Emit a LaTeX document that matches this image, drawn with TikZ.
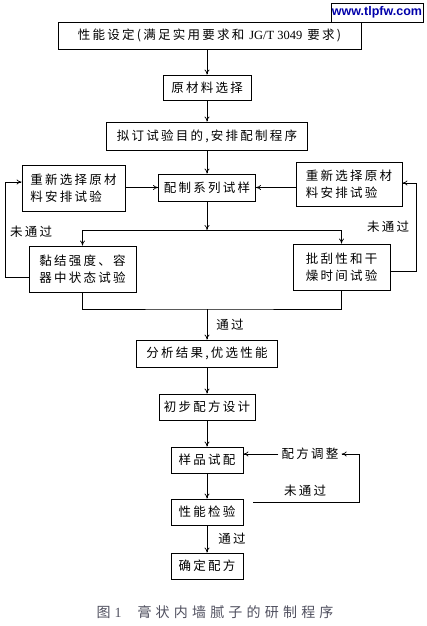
\documentclass[tikz,border=0pt]{standalone}
\usepackage{fontspec}
\setmainfont{Liberation Serif}
\newfontfamily\cjk[LetterSpace=18]{Noto Sans CJK SC}
\newfontfamily\capcjk[LetterSpace=30]{Noto Sans CJK SC}
\newfontfamily\wmfont{Liberation Sans}
\usetikzlibrary{arrows.meta}
\definecolor{wmblue}{RGB}{0,0,170}
\definecolor{capgray}{RGB}{80,80,95}

\tikzset{
	box/.style={draw,line width=0.9pt,inner sep=2pt,align=left,font=\cjk\fontsize{12.5}{17}\selectfont},
	lbl/.style={inner sep=3pt,font=\cjk\fontsize{12.5}{15}\selectfont},
}

\begin{document}
\begin{tikzpicture}[x=1pt,y=-1pt,line width=0.7pt,>={To[length=5pt,width=5pt]}]
	\useasboundingbox (0,0) rectangle (426,626);
	\node (wm) [draw,line width=0.7pt,font=\wmfont\bfseries\fontsize{12.5}{12.5}\selectfont,text=wmblue,minimum width=88,minimum height=19,inner sep=1pt] at (377,12.5) {www.tlpfw.com};
	
	\node (set) [box,minimum width=303,minimum height=27] at (209.5,35.5) {性能设定(满足实用要求和 {\rmfamily JG/T 3049} 要求)};
	\node (ycl) [box,minimum width=88,minimum height=25] at (207,87.5) {原材料选择};
	\node (nd) [box,minimum width=201,minimum height=28] at (207,136) {拟订试验目的,安排配制程序};
	\node (pz) [box,minimum width=97,minimum height=27] at (207,187.5) {配制系列试样};
	\node (cxl) [box,minimum width=103,minimum height=46] at (73.5,188) {重新选择原材\\料安排试验};
	\node (cxr) [box,minimum width=106,minimum height=44] at (349,184) {重新选择原材\\料安排试验};
	\node (nj) [box,minimum width=107,minimum height=46] at (82.5,269) {黏结强度、容\\器中状态试验};
	\node (pg) [box,minimum width=97,minimum height=46] at (341.5,267) {批刮性和干\\燥时间试验};
	\node (fx) [box,minimum width=141,minimum height=27] at (207,353.5) {分析结果,优选性能};
	\node (cb) [box,minimum width=96,minimum height=26] at (207,407) {初步配方设计};
	\node (yp) [box,minimum width=72,minimum height=26] at (207,460) {样品试配};
	\node (xn) [box,minimum width=72,minimum height=26] at (207,512) {性能检验};
	\node (qd) [box,minimum width=72,minimum height=26] at (207,566) {确定配方};
	
	\node (tz) [lbl] at (310,454) {配方调整};
	\node (wl) [lbl] at (31,232) {未通过};
	\node (wr) [lbl] at (388,227) {未通过};
	\node (wb) [lbl] at (305,491) {未通过};
	\node (tg1) [lbl] at (230,325) {通过};
	\node (tg2) [lbl] at (232,539) {通过};
	\coordinate (br) at (207,230);
	\coordinate (mg) at (207,309);
	\coordinate (bk) at (253,502);
	
	\foreach \a/\b in {set/ycl,ycl/nd,nd/pz,fx/cb,cb/yp,yp/xn,xn/qd}
		\draw[->] (\a.south -| \b.north) -- (\b.north);
	\draw[->] (cxl.east |- pz.west) -- (pz.west);
	\draw[->] (cxr.west |- pz.east) -- (pz.east);
	\draw[->] (pz.south) -- (br);
	\draw[->] (br) -| (nj.north);
	\draw[->] (br) -| (pg.north);
	\draw[->] (nj.west |- 0,277) -- (5,277) |- (cxl.west |- 0,182);
	\draw[->] (pg.east |- 0,271) -- (416,271) |- (cxr.east |- 0,183);
	\draw (nj.south) |- (mg) -| (pg.south);
	\draw[->] (mg) -- (fx.north);
	\draw[->] (bk) -- ++(106,0) |- (tz.east);
	\draw[->] (tz.west) -- (tz.west -| yp.east);
	
	\node (cap) [text=capgray,font=\fontsize{14}{16}\selectfont] at (215,612) {{\capcjk 图}\hspace{4pt}1\hspace{16pt}{\capcjk 膏状内墙腻子的研制程序}};
\end{tikzpicture}
\end{document}
